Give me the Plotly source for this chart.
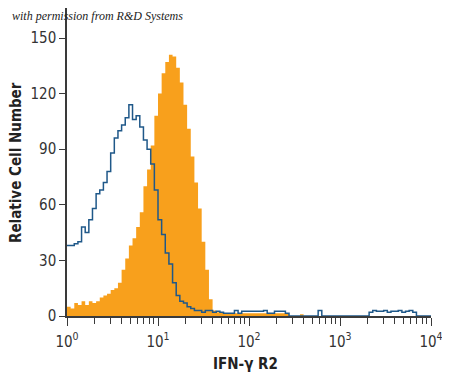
import numpy as np
import plotly.graph_objects as go

# Histogram bins: log10 decades, bin width 0.04 decade, from 10^0 to 10^4
bin_width_decades = 0.04
n_bins = 100

# Isotype control (blue outline)
control_counts = [
    38, 38, 39, 40, 48, 45, 52, 58, 66, 68,
    72, 78, 88, 96, 100, 103, 107, 114, 106, 108,
    102, 95, 90, 82, 68, 52, 44, 34, 28, 18,
    11, 8, 7, 5, 4, 3, 3, 2, 3, 3,
    2, 2.5, 2, 1.5, 1.5, 1.5, 3, 1.5, 2.5, 2.5,
    2.5, 2.5, 2.5, 2.5, 3, 1.5, 1.5, 2.5, 2.5, 2.5,
    1.5, 0, 0, 0, 0, 0, 0, 0, 0, 3,
    0, 0, 0, 0, 0, 0, 0, 0, 0, 0,
    0, 0, 0, 2, 3, 2.5, 2.5, 3, 2, 2.5,
    2.5, 3, 2, 2.5, 3, 2, 0, 0, 0, 0,
]

# IFN-gamma R2 stained (orange filled)
stained_counts = [
    5, 4, 7, 6, 8, 6, 8, 7, 8, 10,
    11, 12, 14, 15, 18, 25, 31, 38, 42, 48,
    56, 70, 79, 92, 108, 120, 131, 137, 141, 140,
    134, 126, 114, 101, 86, 72, 58, 40, 25, 9,
    3, 2, 2, 1.5, 1.5, 1.5, 1.5, 1.5, 1.5, 1.5,
    1.5, 1.5, 1.5, 1.5, 1.5, 1.5, 1.5, 1.5, 1.5, 1.5,
    1.5, 0, 0, 0, 1, 0, 0, 0, 0, 0,
    0, 0, 0, 0, 0, 0, 0, 0, 0, 0,
    0, 0, 0, 0, 0, 0, 0, 0, 0, 0,
    0, 0, 0, 0, 0, 0, 0, 0, 0, 0,
]

y_tick_values = [0, 30, 60, 90, 120, 150]
x_tick_values = [1, 10, 100, 1000, 10000]
x_tick_labels = ["10<sup>0</sup>", "10<sup>1</sup>", "10<sup>2</sup>", "10<sup>3</sup>", "10<sup>4</sup>"]
x_minor_values = [k * 10 ** d for d in range(4) for k in range(2, 10)]

edges = 10 ** (np.arange(n_bins + 1) * bin_width_decades)


def step_xy(counts):
    return list(edges), list(counts) + [counts[-1]]


sx, sy = step_xy(stained_counts)
cx, cy = step_xy(control_counts)

ORANGE = "#F8A01C"
BLUE = "#1F5889"
AXIS = "#3a3a3a"
FONT = "DejaVu Sans Condensed, Liberation Sans Narrow, sans-serif"

# The page body adds an 8px offset; work in page pixels and convert.
OFF = 8
W, H = 450 - OFF, 379 - OFF
L, R, T, B = 67 - OFF, 431 - OFF, 8 - OFF, 316 - OFF   # plot area (figure px)
PW, PH = R - L, B - T
y_top = 150 * PH / (316 - 38)

fig = go.Figure()
fig.add_trace(go.Scatter(x=sx, y=sy, mode="lines", line=dict(shape="hv", width=0, color=ORANGE),
                         fill="tozeroy", fillcolor=ORANGE, hoverinfo="skip"))
fig.add_trace(go.Scatter(x=cx, y=cy, mode="lines", line=dict(shape="hv", width=1.5, color=BLUE),
                         hoverinfo="skip"))

fig.update_layout(
    width=W, height=H,
    margin=dict(l=L, r=W - R, t=T, b=H - B, autoexpand=False),
    paper_bgcolor="white", plot_bgcolor="white",
    showlegend=False,
    font=dict(family=FONT, color="#333333"),
)
fig.update_xaxes(
    type="log", range=[0, 4], automargin=False,
    tickvals=x_tick_values, ticktext=x_tick_labels,
    ticks="outside", ticklen=8, tickwidth=1, tickcolor=AXIS,
    ticklabelstandoff=3,
    minor=dict(tickvals=x_minor_values, ticks="outside", ticklen=6, tickwidth=1,
               tickcolor=AXIS, showgrid=False),
    showline=True, linecolor=AXIS, linewidth=1.5,
    showgrid=False, zeroline=False,
    tickfont=dict(size=15, family=FONT, color="#333333"),
)
fig.update_yaxes(
    range=[0, y_top], automargin=False,
    tickvals=y_tick_values,
    ticks="outside", ticklen=6, tickwidth=1, tickcolor=AXIS,
    showline=True, linecolor=AXIS, linewidth=1.5,
    showgrid=False, zeroline=False,
    tickfont=dict(size=15, family=FONT, color="#333333"),
)


def page_to_paper(xp, yp):
    return (xp - OFF - L) / PW, (B - (yp - OFF)) / PH


ax, ay = page_to_paper(16, 163)
fig.add_annotation(text="<b>Relative Cell Number</b>", textangle=-90,
                   xref="paper", yref="paper", x=ax, y=ay, xanchor="center", yanchor="middle",
                   showarrow=False, font=dict(family=FONT, size=15, color="#222222"))
bx, by = page_to_paper(245, 364)
fig.add_annotation(text="<b>IFN-γ R2</b>",
                   xref="paper", yref="paper", x=bx, y=by, xanchor="center", yanchor="middle",
                   showarrow=False, font=dict(family=FONT, size=15, color="#222222"))
wx, wy = page_to_paper(10, 16)
fig.add_annotation(
    text="<i>with permission from R&amp;D Systems</i>",
    xref="paper", yref="paper", x=wx, y=wy,
    xanchor="left", yanchor="middle", showarrow=False,
    font=dict(family="Liberation Serif, DejaVu Serif, serif", size=12, color="#222222"),
)

fig.write_html("out.html")
